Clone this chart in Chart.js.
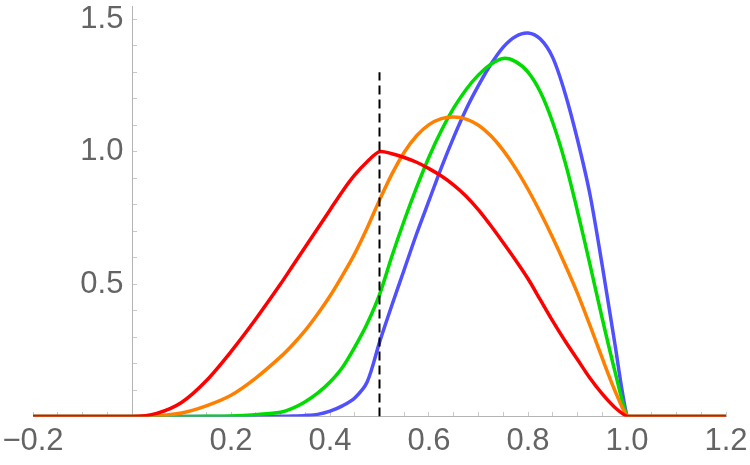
<!DOCTYPE html>
<html>
<head>
<meta charset="utf-8">
<script src="https://cdn.jsdelivr.net/npm/chart.js@4.4.1/dist/chart.umd.min.js"></script>
<style>
    html, body { margin: 0; padding: 0; background: #fff; }
</style>
</head>
<body>
<canvas id="myChart" width="750" height="465"></canvas>
<script>
// values
var xs = [-0.2, 0, 0.05, 0.1, 0.15, 0.2, 0.25,
    0.3, 0.325, 0.35, 0.375, 0.4, 0.425, 0.45, 0.475, 0.5, 0.525, 0.55, 0.575, 0.6, 0.625,
    0.65, 0.675, 0.7, 0.725, 0.75, 0.775, 0.8, 0.825, 0.85, 0.875, 0.9, 0.925, 0.95, 0.975,
    1, 1.01, 1.2];
var redValues = [0, 0, 0.012, 0.053, 0.135, 0.245, 0.368,
    0.5, 0.57, 0.64, 0.71, 0.78, 0.85, 0.912, 0.962, 1.0, 0.992, 0.978, 0.96, 0.936, 0.908,
    0.874, 0.832, 0.78, 0.72, 0.656, 0.59, 0.52, 0.44, 0.36, 0.285, 0.215, 0.145, 0.085, 0.035,
    0, 0, 0];
var orangeValues = [0, 0, 0.002, 0.013, 0.04, 0.08, 0.145,
    0.225, 0.272, 0.325, 0.387, 0.455, 0.532, 0.615, 0.712, 0.817, 0.915, 0.998, 1.06, 1.102, 1.125,
    1.131, 1.123, 1.1, 1.06, 1.005, 0.937, 0.858, 0.77, 0.675, 0.573, 0.465, 0.345, 0.22, 0.1,
    0, 0, 0];
var greenValues = [0, 0, 0, 0, 0.001, 0.002, 0.007,
    0.016, 0.032, 0.056, 0.088, 0.13, 0.185, 0.262, 0.35, 0.46, 0.605, 0.74, 0.865, 0.98, 1.08,
    1.165, 1.235, 1.29, 1.33, 1.352, 1.34, 1.3, 1.225, 1.11, 0.96, 0.775, 0.575, 0.37, 0.175,
    0, 0, 0];
var blueValues = [0, 0, 0, 0, 0, 0, 0,
    0.001, 0.002, 0.004, 0.008, 0.02, 0.04, 0.07, 0.13, 0.28, 0.42, 0.555, 0.69, 0.815, 0.94,
    1.055, 1.16, 1.25, 1.33, 1.395, 1.435, 1.448, 1.425, 1.355, 1.22, 1.045, 0.84, 0.57, 0.28,
    0, 0, 0];
var markerX = [0.5, 0.5];
var markerY = [0, 1.3];
var xTickLabels = [-0.2, 0.2, 0.4, 0.6, 0.8, 1.0, 1.2];
var yTickLabels = [0.5, 1.0, 1.5];

var labelColor = '#646464';
var axisColor = '#b4b4b4';
var labelFont = { family: 'Liberation Sans', size: 31 };

function toPoints(xValues, yValues) {
    var points = [];
    for (var i = 0; i < xValues.length; i++) {
        points.push({ x: xValues[i], y: yValues[i] });
    }
    return points;
}

function inList(value, list) {
    return list.some(function (v) { return Math.abs(v - value) < 1e-6; });
}

function formatTick(value) {
    var s = Math.abs(value).toFixed(1);
    return value < 0 ? '\u2212' + s : s;
}

function curve(values, color) {
    return {
        data: toPoints(xs, values),
        borderColor: color,
        borderWidth: 3.5,
        pointRadius: 0,
        fill: false,
        tension: 0.3
    };
}

// axes sit inside the plot, so they take no room in the layout
function noRoom(scale) {
    if (scale.isHorizontal()) {
        scale.height = 0;
    } else {
        scale.width = 0;
    }
    scale.paddingLeft = 0;
    scale.paddingRight = 0;
    scale.paddingTop = 0;
    scale.paddingBottom = 0;
}

var datasets = [
    {
        data: toPoints(markerX, markerY),
        borderColor: '#000000',
        borderWidth: 2,
        borderDash: [9, 5],
        borderCapStyle: 'butt',
        pointRadius: 0,
        fill: false,
        tension: 0
    },
    curve(redValues, '#ff0000'),
    curve(orangeValues, '#ff8000'),
    curve(greenValues, '#00dc00'),
    curve(blueValues, '#5050ff')
];

const config = {
    type: 'line',
    data: { datasets: datasets },
    options: {
        responsive: false,
        animation: false,
        devicePixelRatio: 1,
        layout: { padding: { left: 33, right: 24, top: 6, bottom: 48.5 } },
        elements: { line: { capBezierPoints: true } },
        plugins: {
            legend: { display: false },
            tooltip: { enabled: false }
        },
        scales: {
            x: {
                type: 'linear',
                min: -0.2,
                max: 1.2,
                position: { y: 0 },
                afterFit: noRoom,
                border: { display: true, color: axisColor, width: 1 },
                grid: { drawOnChartArea: false, drawTicks: true, tickLength: -5, tickColor: '#c8c8c8' },
                ticks: {
                    stepSize: 0.05,
                    autoSkip: false,
                    maxRotation: 0,
                    padding: 11,
                    color: labelColor,
                    font: labelFont,
                    callback: function (value) {
                        return inList(value, xTickLabels) ? formatTick(value) : '';
                    }
                }
            },
            y: {
                type: 'linear',
                min: 0,
                max: 1.55,
                position: { x: 0 },
                afterFit: noRoom,
                border: { display: true, color: axisColor, width: 1 },
                grid: { drawOnChartArea: false, drawTicks: true, tickLength: -5, tickColor: '#c8c8c8' },
                ticks: {
                    stepSize: 0.1,
                    includeBounds: false,
                    autoSkip: false,
                    color: labelColor,
                    font: labelFont,
                    callback: function (value) {
                        return inList(value, yTickLabels) ? formatTick(value) + ' ' : '';
                    }
                }
            }
        }
    }
};

new Chart(document.getElementById('myChart'), config);
</script>
</body>
</html>
